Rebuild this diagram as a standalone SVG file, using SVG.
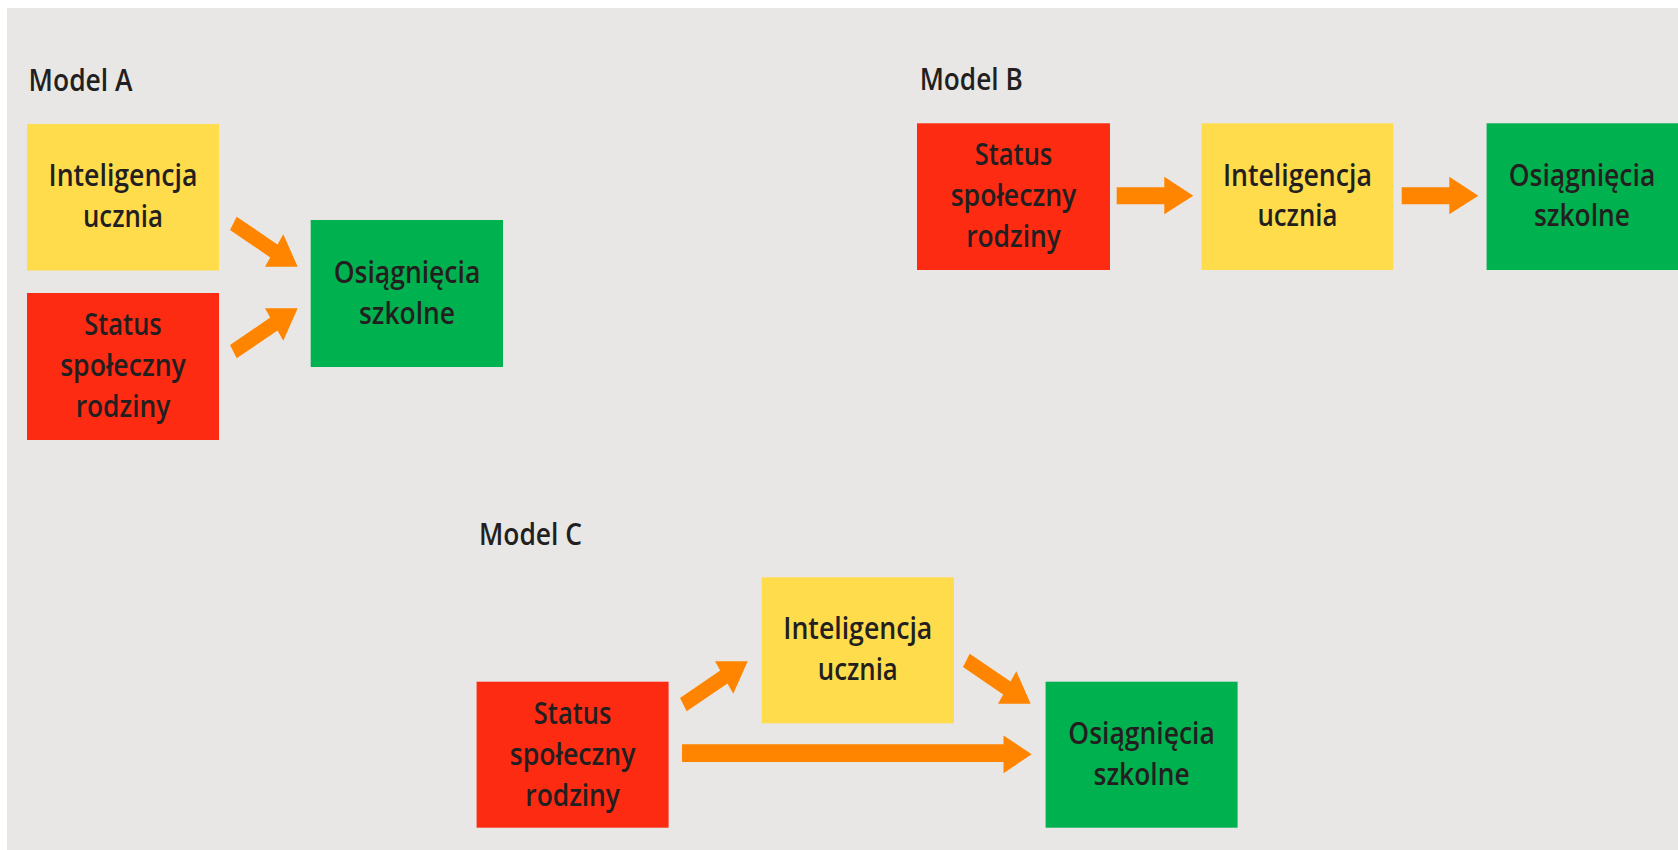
<svg xmlns="http://www.w3.org/2000/svg" width="1678" height="850" viewBox="0 0 1678 850">
<style>
.bg{fill:#E8E7E5}
.y{fill:#FFDC4B}
.r{fill:#FE2B13}
.g{fill:#00B14F}
.arr{fill:#FF8500}
text{font-family:"Open Sans","Liberation Sans",sans-serif;font-weight:600;font-size:30px;fill:#231F20}
.t{text-anchor:middle}
</style>
<defs>
<polygon id="dr" points="236.7,216.7 277.5,244.5 283.3,234.3 297.7,266.7 265,266.7 270.2,257.4 230,230"/>
<polygon id="ur" points="236.7,358.3 277.5,330.5 283.3,340.7 297.7,308.3 265,308.3 270.2,317.6 230,345"/>
</defs>
<rect x="0" y="0" width="1678" height="850" fill="#FFFFFF"/>
<rect class="bg" x="7" y="8" width="1671" height="842"/>

<text x="28.6" y="90.5" textLength="104" lengthAdjust="spacingAndGlyphs">Model A</text>
<text x="919.7" y="90" textLength="103" lengthAdjust="spacingAndGlyphs">Model B</text>
<text x="479" y="545" textLength="103" lengthAdjust="spacingAndGlyphs">Model C</text>

<g id="A-int">
<rect class="y" x="27" y="124" width="192" height="146.5"/>
<text class="t" x="123" y="186" textLength="149" lengthAdjust="spacingAndGlyphs">Inteligencja</text>
<text class="t" x="123" y="226.5" textLength="80" lengthAdjust="spacingAndGlyphs">ucznia</text>
</g>
<g id="A-status">
<rect class="r" x="27" y="293" width="192" height="147"/>
<text class="t" x="123" y="335" textLength="77.5" lengthAdjust="spacingAndGlyphs">Status</text>
<text class="t" x="123" y="376" textLength="125.7" lengthAdjust="spacingAndGlyphs">społeczny</text>
<text class="t" x="123" y="417" textLength="94.7" lengthAdjust="spacingAndGlyphs">rodziny</text>
</g>
<g id="A-osi">
<rect class="g" x="310.7" y="220" width="192.3" height="147"/>
<text class="t" x="407" y="283" textLength="146.5" lengthAdjust="spacingAndGlyphs">Osiągnięcia</text>
<text class="t" x="407" y="323.5" textLength="96" lengthAdjust="spacingAndGlyphs">szkolne</text>
</g>

<g id="B-status">
<rect class="r" x="917" y="123.3" width="193" height="146.7"/>
<text class="t" x="1013.5" y="165" textLength="77.5" lengthAdjust="spacingAndGlyphs">Status</text>
<text class="t" x="1013.5" y="206" textLength="125.7" lengthAdjust="spacingAndGlyphs">społeczny</text>
<text class="t" x="1013.5" y="247" textLength="94.7" lengthAdjust="spacingAndGlyphs">rodziny</text>
</g>
<g id="B-int">
<rect class="y" x="1201.6" y="123.3" width="191.6" height="146.7"/>
<text class="t" x="1297.4" y="185.5" textLength="149" lengthAdjust="spacingAndGlyphs">Inteligencja</text>
<text class="t" x="1297.4" y="226" textLength="80" lengthAdjust="spacingAndGlyphs">ucznia</text>
</g>
<g id="B-osi">
<rect class="g" x="1486.6" y="123.3" width="191.4" height="146.7"/>
<text class="t" x="1582" y="185.5" textLength="146.5" lengthAdjust="spacingAndGlyphs">Osiągnięcia</text>
<text class="t" x="1582" y="226" textLength="96" lengthAdjust="spacingAndGlyphs">szkolne</text>
</g>

<g id="C-status">
<rect class="r" x="476.6" y="681.7" width="192" height="146"/>
<text class="t" x="572.6" y="723.5" textLength="77.5" lengthAdjust="spacingAndGlyphs">Status</text>
<text class="t" x="572.6" y="764.5" textLength="125.7" lengthAdjust="spacingAndGlyphs">społeczny</text>
<text class="t" x="572.6" y="805.5" textLength="94.7" lengthAdjust="spacingAndGlyphs">rodziny</text>
</g>
<g id="C-int">
<rect class="y" x="761.7" y="577.3" width="192.3" height="146"/>
<text class="t" x="857.8" y="639" textLength="149" lengthAdjust="spacingAndGlyphs">Inteligencja</text>
<text class="t" x="857.8" y="680" textLength="80" lengthAdjust="spacingAndGlyphs">ucznia</text>
</g>
<g id="C-osi">
<rect class="g" x="1045.6" y="681.7" width="192" height="146"/>
<text class="t" x="1141.6" y="743.5" textLength="146.5" lengthAdjust="spacingAndGlyphs">Osiągnięcia</text>
<text class="t" x="1141.6" y="784.5" textLength="96" lengthAdjust="spacingAndGlyphs">szkolne</text>
</g>

<g id="connectors">
<use href="#dr" class="arr"/>
<use href="#ur" class="arr"/>
<polygon class="arr" points="1116.7,187.3 1164.3,187.3 1164.3,176.7 1193.3,195.8 1164.3,214.3 1164.3,204.3 1116.7,204.3"/>
<polygon class="arr" points="1401.7,187.3 1449.3,187.3 1449.3,176.7 1478.3,195.8 1449.3,214.3 1449.3,204.3 1401.7,204.3"/>
<use href="#ur" class="arr" transform="translate(450,353)"/>
<use href="#dr" class="arr" transform="translate(733,437)"/>
<polygon class="arr" points="682,744.3 1003.5,744.3 1003.5,735.5 1031.7,754.2 1003.5,773.2 1003.5,762 682,762"/>
</g>
</svg>
